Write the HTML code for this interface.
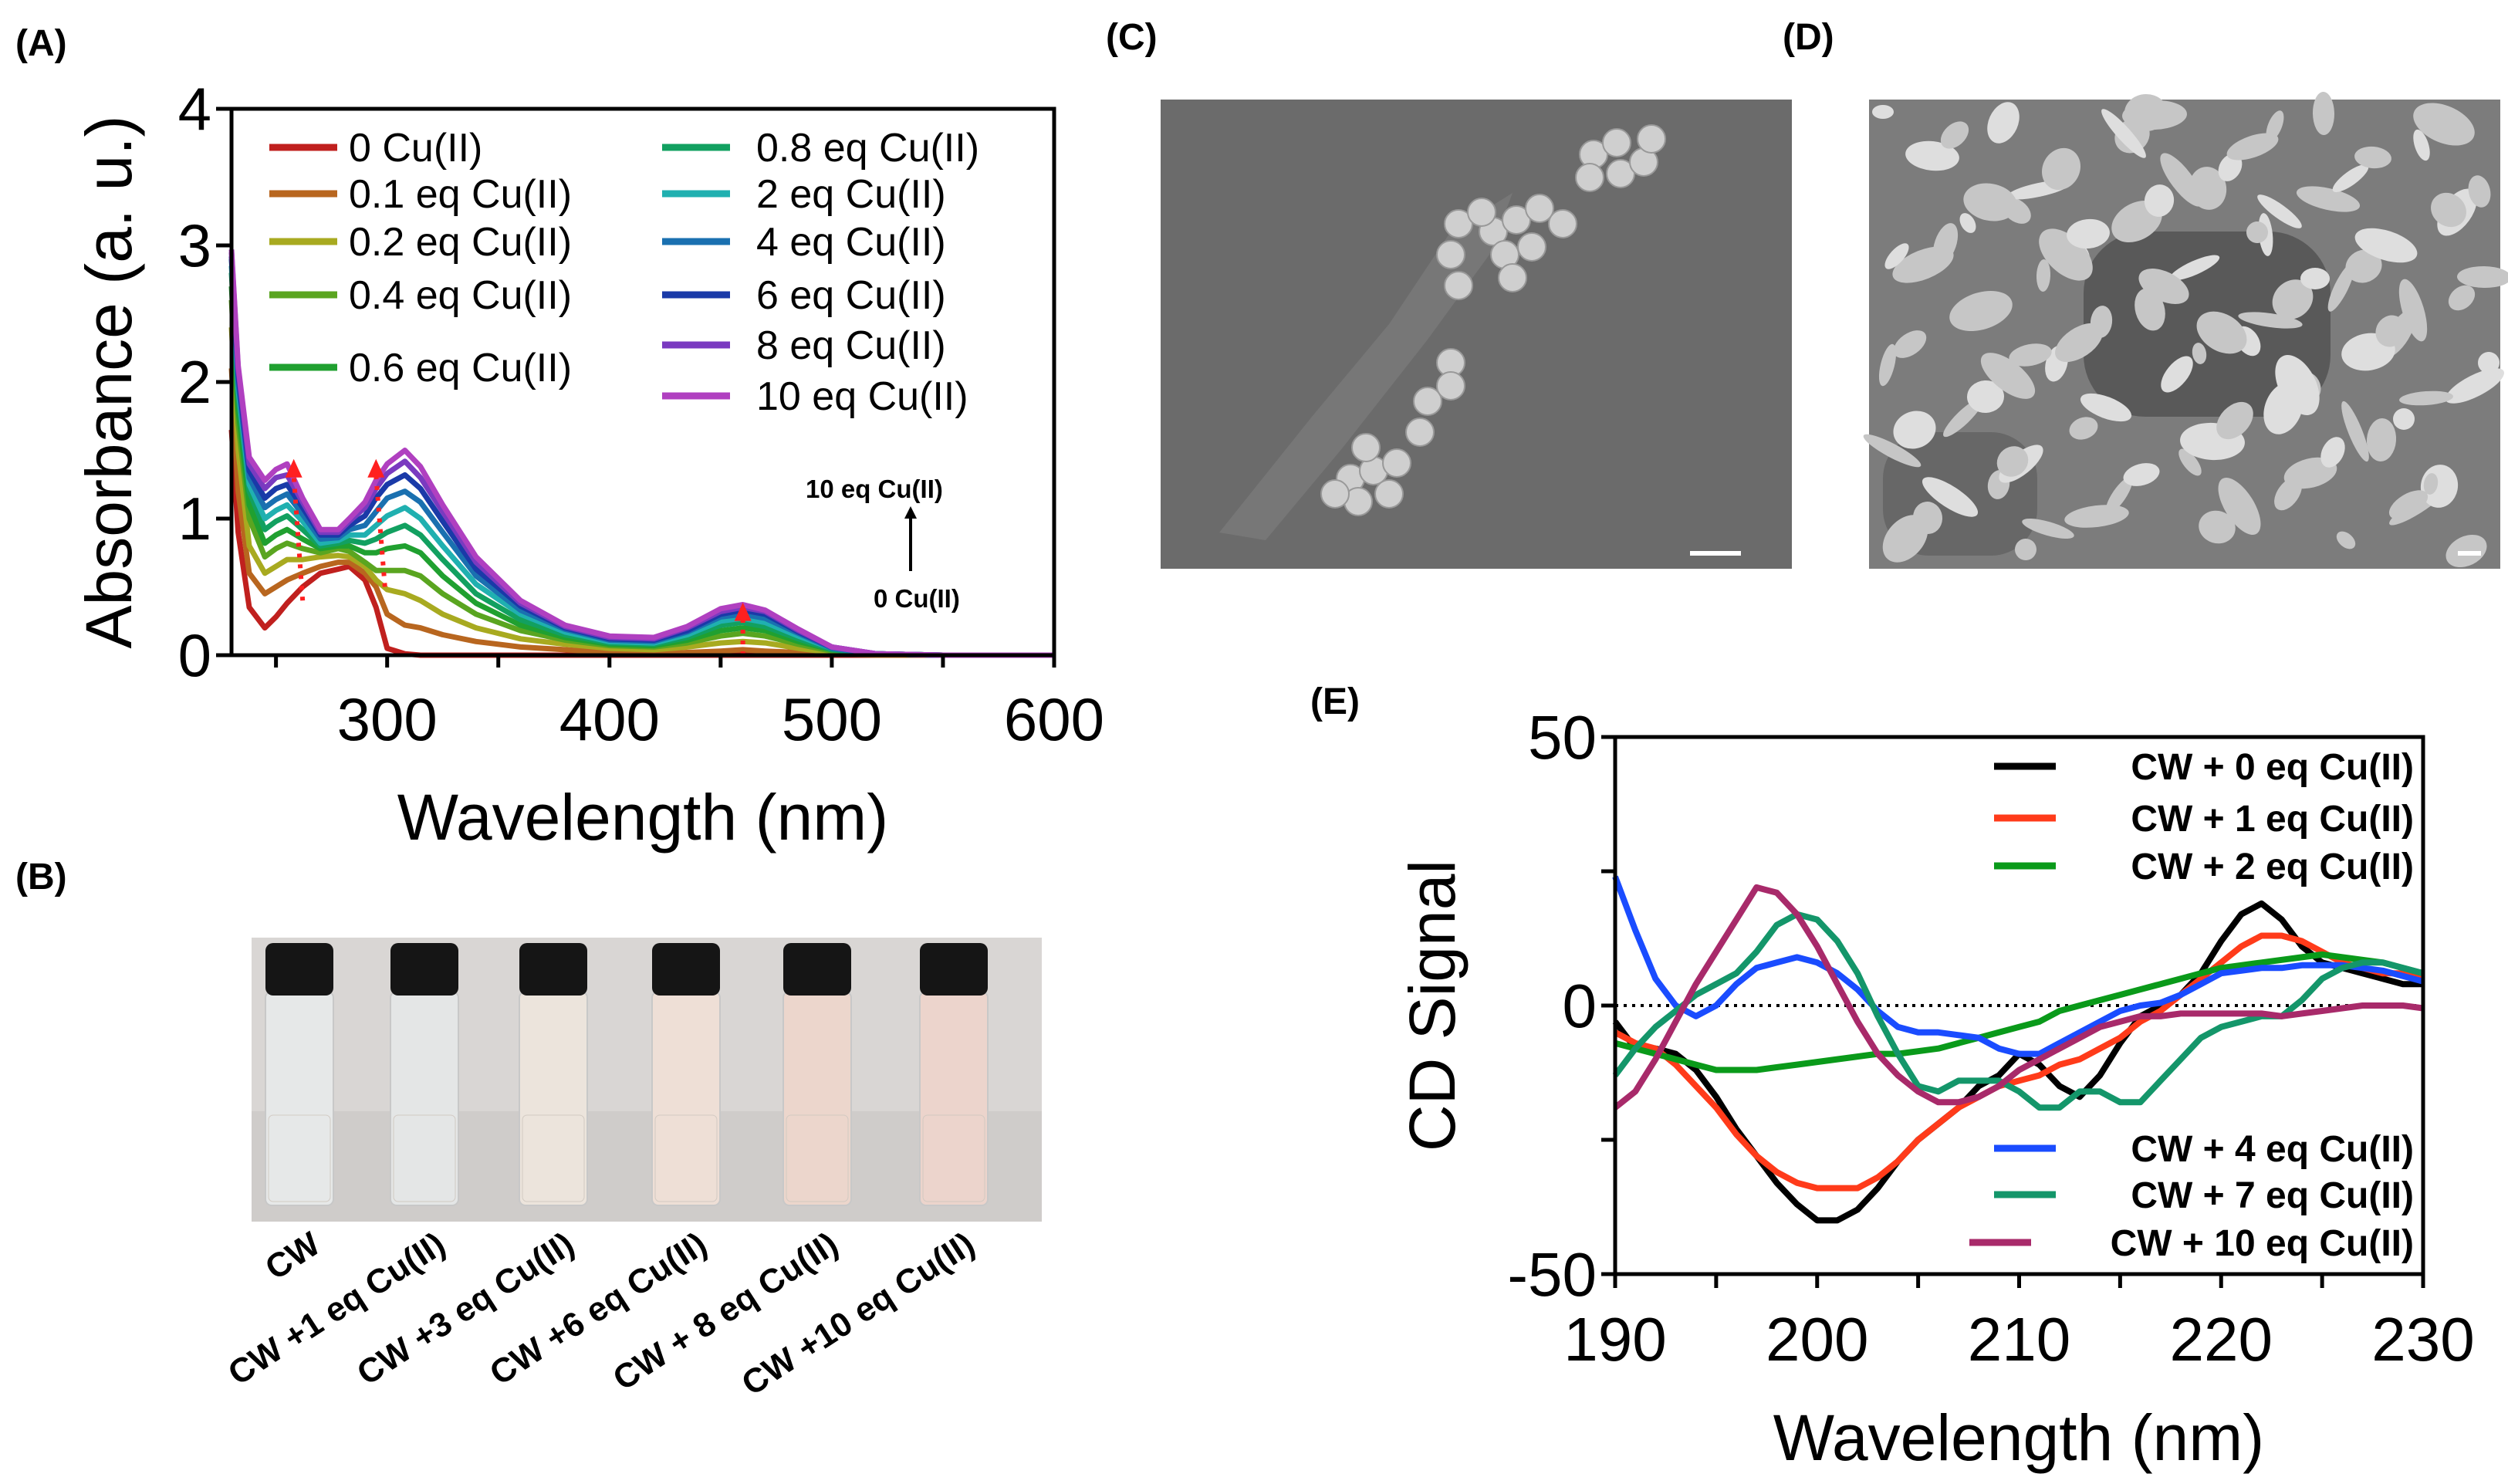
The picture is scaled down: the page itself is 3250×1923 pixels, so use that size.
<!DOCTYPE html>
<html><head><meta charset="utf-8"><style>
html,body{margin:0;padding:0;background:#fff;}
svg{display:block;font-family:"Liberation Sans",sans-serif;}
</style></head><body>
<svg id="fig" width="3250" height="1923" viewBox="0 0 3250 1923" xmlns="http://www.w3.org/2000/svg">
<text x="20" y="72" font-size="48" font-weight="bold">(A)</text>
<text x="20" y="1152" font-size="48" font-weight="bold">(B)</text>
<text x="1433" y="64" font-size="48" font-weight="bold">(C)</text>
<text x="2310" y="64" font-size="48" font-weight="bold">(D)</text>
<text x="1698" y="925" font-size="48" font-weight="bold">(E)</text>
<g id="chartA"></g>
<g id="chartE"></g>
<g id="photoB"></g>
<g id="semC"></g>
<g id="semD"></g>
</svg>
<script>
const NS="http://www.w3.org/2000/svg";
function mk(p,tag,at,txt){const e=document.createElementNS(NS,tag);for(const k in at)e.setAttribute(k,at[k]);if(txt!==undefined)e.textContent=txt;p.appendChild(e);return e;}

// ---------- Panel A data ----------
const aWave=[230,233,238,245,250,255,262,270,278,283,290,295,300,308,315,325,340,360,380,400,420,435,450,460,470,485,500,520,550,600];
const aLabels=["0 Cu(II)","0.1 eq Cu(II)","0.2 eq Cu(II)","0.4 eq Cu(II)","0.6 eq Cu(II)","0.8 eq Cu(II)","2 eq Cu(II)","4 eq Cu(II)","6 eq Cu(II)","8 eq Cu(II)","10 eq Cu(II)"];
const aColors=["#c0201e","#b8661f","#a8aa20","#5aa520","#20a030","#12a060","#20b0b0","#1a70b0","#1a3aa8","#7a3ac0","#b040c0"];
const a0=[1.65,0.9,0.35,0.2,0.28,0.38,0.5,0.6,0.63,0.65,0.55,0.35,0.05,0.01,0,0,0,0,0,0,0,0,0,0,0,0,0,0,0,0];
const a01=[2.1,1.2,0.6,0.45,0.5,0.55,0.6,0.65,0.68,0.68,0.6,0.5,0.3,0.22,0.2,0.15,0.1,0.06,0.04,0.02,0.01,0.02,0.03,0.04,0.03,0.02,0.01,0,0,0];
const a02=[2.4,1.5,0.8,0.6,0.65,0.7,0.7,0.72,0.73,0.72,0.65,0.55,0.48,0.45,0.4,0.3,0.2,0.12,0.08,0.05,0.04,0.06,0.09,0.1,0.09,0.05,0.02,0.01,0,0];
const a04=[2.6,1.7,1.0,0.72,0.78,0.82,0.78,0.75,0.78,0.76,0.68,0.62,0.62,0.62,0.58,0.45,0.3,0.18,0.11,0.07,0.06,0.09,0.14,0.16,0.14,0.08,0.03,0.01,0,0];
const a06=[2.7,1.8,1.1,0.82,0.88,0.92,0.85,0.78,0.8,0.8,0.75,0.75,0.78,0.8,0.75,0.58,0.38,0.22,0.13,0.08,0.07,0.11,0.18,0.2,0.18,0.1,0.04,0.01,0,0];
const a08=[2.8,1.9,1.2,0.92,0.98,1.02,0.92,0.8,0.82,0.84,0.82,0.85,0.9,0.95,0.88,0.7,0.45,0.26,0.15,0.09,0.08,0.13,0.22,0.24,0.21,0.12,0.04,0.01,0,0];
const a2=[2.85,1.95,1.25,1.0,1.06,1.1,0.98,0.82,0.84,0.88,0.88,0.95,1.02,1.08,1.0,0.8,0.52,0.3,0.17,0.1,0.09,0.15,0.25,0.27,0.24,0.14,0.05,0.01,0,0];
const a4=[2.9,2.0,1.3,1.08,1.14,1.18,1.03,0.85,0.86,0.92,0.95,1.05,1.15,1.2,1.12,0.9,0.58,0.33,0.19,0.11,0.1,0.17,0.28,0.3,0.27,0.16,0.05,0.01,0,0];
const a6=[2.92,2.05,1.35,1.15,1.22,1.25,1.08,0.88,0.88,0.95,1.02,1.15,1.25,1.32,1.22,0.98,0.63,0.36,0.2,0.12,0.11,0.18,0.3,0.33,0.3,0.17,0.06,0.01,0,0];
const a8=[2.95,2.1,1.4,1.22,1.3,1.32,1.12,0.9,0.9,0.98,1.08,1.22,1.33,1.42,1.3,1.05,0.68,0.38,0.21,0.13,0.12,0.2,0.32,0.35,0.32,0.18,0.06,0.01,0,0];
const a10=[2.97,2.12,1.45,1.28,1.36,1.4,1.15,0.92,0.92,1.0,1.12,1.28,1.4,1.5,1.38,1.1,0.72,0.4,0.22,0.14,0.13,0.21,0.34,0.37,0.33,0.19,0.06,0.01,0,0];
const aSeries=[a0,a01,a02,a04,a06,a08,a2,a4,a6,a8,a10];
const aXTicks=[300,400,500,600];
const aYTicks=[0,1,2,3,4];

// ---------- Panel E data ----------
const eWave=[190,191,192,193,194,195,196,197,198,199,200,201,202,203,204,205,206,207,208,209,210,211,212,213,214,215,216,217,218,219,220,221,222,223,224,225,226,227,228,229,230];
const e0=[-3,-8,-8,-9,-12,-17,-23,-28,-33,-37,-40,-40,-38,-34,-29,-25,-22,-19,-15,-13,-9,-11,-15,-17,-13,-7,-2,0,2,6,12,17,19,16,11,8,7,6,5,4,4];
const e1=[-5,-7,-8,-11,-15,-19,-24,-28,-31,-33,-34,-34,-34,-32,-29,-25,-22,-19,-17,-15,-14,-13,-11,-10,-8,-6,-3,-1,2,5,8,11,13,13,12,10,8,7,6,6,5];
const e2=[-7,-8,-9,-10,-11,-12,-12,-12,-11.5,-11,-10.5,-10,-9.5,-9,-9,-8.5,-8,-7,-6,-5,-4,-3,-1,0,1,2,3,4,5,6,7,7.5,8,8.5,9,9.5,9,8.5,8,7,6];
const e4=[24,14,5,0,-2,0,4,7,8,9,8,6,3,-1,-4,-5,-5,-5.5,-6,-8,-9,-9,-7,-5,-3,-1,0,0.5,2,4,6,6.5,7,7,7.5,7.5,7.5,7,6.5,5.5,4.5];
const e7=[-13,-8,-4,-1,2,4,6,10,15,17,16,12,6,-2,-9,-15,-16,-14,-14,-14,-16,-19,-19,-16,-16,-18,-18,-14,-10,-6,-4,-3,-2,-2,1,5,7,8,8,7,6];
const e10=[-19,-16,-10,-3,4,10,16,22,21,17,11,4,-3,-9,-13,-16,-18,-18,-17,-15,-12,-10,-8,-6,-4,-3,-2,-2,-1.5,-1.5,-1.5,-1.5,-1.5,-2,-1.5,-1,-0.5,0,0,0,-0.5];
const eSeries=[e0,e1,e2,e4,e7,e10];
const eLabels=["CW + 0 eq Cu(II)","CW + 1 eq Cu(II)","CW + 2 eq Cu(II)","CW + 4 eq Cu(II)","CW + 7 eq Cu(II)","CW + 10 eq Cu(II)"];
const eColors=["#000000","#ff3b1a","#0a9a1a","#1a4cff","#14966a","#a82a6a"];
const eXTicks=[190,200,210,220,230];
const eYTicks=[-50,0,50];

// ---------- Panel A drawing ----------
(function(){
 const g=document.getElementById('chartA');
 const L=300,R=1366,T=141,B=849;
 const xs=v=>L+(v-230)/(600-230)*(R-L);
 const ys=v=>B-(v/4)*(B-T);
 aSeries.forEach((s,i)=>{
  const d=s.map((v,j)=>(j?'L':'M')+xs(aWave[j]).toFixed(1)+' '+ys(v).toFixed(1)).join(' ');
  const p=mk(g,'path',{d:d,fill:'none',stroke:aColors[i],'stroke-width':7,'stroke-linejoin':'round'});
  
  
 });
 [[258,0.4,1.38],[295,0.5,1.38],[460,0,0.33]].forEach(a=>{
  const l=mk(g,'line',{x1:xs(a[0]+(a[0]<300?4:0)),y1:ys(a[1]),x2:xs(a[0]),y2:ys(a[2])+12,stroke:'#ff2020','stroke-width':6,'stroke-dasharray':'5 9'});
  
  
  const t=mk(g,'path',{d:`M${xs(a[0])-11} ${ys(a[2])+14} L${xs(a[0])+11} ${ys(a[2])+14} L${xs(a[0])} ${ys(a[2])-10} Z`,fill:'#ff2020'});
  
  
 });
 const ax=mk(g,'path',{d:`M${L} ${T} L${L} ${B} L${R} ${B} L${R} ${T} Z`,fill:'none',stroke:'#000','stroke-width':5});
 
 
 [250,300,350,400,450,500,550,600].forEach(v=>{mk(g,'line',{x1:xs(v),y1:B,x2:xs(v),y2:B+16,stroke:'#000','stroke-width':5});});
 aXTicks.forEach(v=>{
  const t=mk(g,'text',{x:xs(v),y:B+110,'font-size':78,'text-anchor':'middle'},String(v));
  
  
 });
 aYTicks.forEach(v=>{
  mk(g,'line',{x1:L-20,y1:ys(v),x2:L,y2:ys(v),stroke:'#000','stroke-width':5});
  const t=mk(g,'text',{x:L-26,y:ys(v)+27,'font-size':78,'text-anchor':'end'},String(v));
  
  
 });
 const xt=mk(g,'text',{x:833,y:1088,'font-size':84,'text-anchor':'middle'},'Wavelength (nm)');
 
 
 const yt=mk(g,'text',{x:0,y:0,'font-size':84,'text-anchor':'middle',transform:'translate(170,495) rotate(-90)'},'Absorbance (a. u.)');
 
 
 const legY=[191,251,313,382,476,191,251,313,382,447,513];
 aLabels.forEach((lab,i)=>{
  const lx=i<5?349:858, tx=i<5?452:980;
  mk(g,'line',{x1:lx,y1:legY[i],x2:lx+88,y2:legY[i],stroke:aColors[i],'stroke-width':9});
  const t=mk(g,'text',{x:tx,y:legY[i]+18,'font-size':52},lab);
  
  
 });
 const n1=mk(g,'text',{x:1044,y:645,'font-size':33,'font-weight':'bold'},'10 eq Cu(II)');
 
 
 mk(g,'line',{x1:1180,y1:740,x2:1180,y2:668,stroke:'#000','stroke-width':4});
 mk(g,'path',{d:'M1172 672 L1188 672 L1180 656 Z',fill:'#000'});
 const n2=mk(g,'text',{x:1132,y:787,'font-size':33,'font-weight':'bold'},'0 Cu(II)');
 
 
})();

// ---------- Panel E drawing ----------
(function(){
 const g=document.getElementById('chartE');
 const L=2093,R=3140,T=955,B=1651;
 const xs=v=>L+(v-190)/40*(R-L);
 const ys=v=>T+(50-v)/100*(B-T);
 mk(g,'line',{x1:L,y1:ys(0),x2:R,y2:ys(0),stroke:'#000','stroke-width':4,'stroke-dasharray':'4 7'});
 eSeries.forEach((s,i)=>{
  const d=s.map((v,j)=>(j?'L':'M')+xs(eWave[j]).toFixed(1)+' '+ys(v).toFixed(1)).join(' ');
  const p=mk(g,'path',{d:d,fill:'none',stroke:eColors[i],'stroke-width':8,'stroke-linejoin':'round'});
  
  
 });
 mk(g,'path',{d:`M${L} ${T} L${L} ${B} L${R} ${B} L${R} ${T} Z`,fill:'none',stroke:'#000','stroke-width':5});
 for(let v=190;v<=230;v+=5)mk(g,'line',{x1:xs(v),y1:B,x2:xs(v),y2:B+18,stroke:'#000','stroke-width':5});
 [-50,-25,0,25,50].forEach(v=>mk(g,'line',{x1:L-18,y1:ys(v),x2:L,y2:ys(v),stroke:'#000','stroke-width':5}));
 eXTicks.forEach(v=>{
  const t=mk(g,'text',{x:xs(v),y:B+112,'font-size':80,'text-anchor':'middle'},String(v));
  
  
 });
 eYTicks.forEach(v=>{
  const t=mk(g,'text',{x:L-24,y:ys(v)+28,'font-size':80,'text-anchor':'end'},String(v));
  
  
 });
 const xt=mk(g,'text',{x:2616,y:1892,'font-size':84,'text-anchor':'middle'},'Wavelength (nm)');
 
 
 const yt=mk(g,'text',{x:0,y:0,'font-size':84,'text-anchor':'middle',transform:'translate(1885,1303) rotate(-90)'},'CD Signal');
 
 
 const legY=[993,1060,1122,1488,1548,1610];
 eLabels.forEach((lab,i)=>{
  const lx=i==5?2552:2584;
  mk(g,'line',{x1:lx,y1:legY[i],x2:lx+80,y2:legY[i],stroke:eColors[i],'stroke-width':9});
  const t=mk(g,'text',{x:3128,y:legY[i]+17,'font-size':48,'font-weight':'bold','text-anchor':'end'},lab);
  
  
 });
})();

// ---------- Panel B photo ----------
(function(){
 const g=document.getElementById('photoB');
 mk(g,'rect',{x:326,y:1215,width:1024,height:368,fill:'#d9d6d4'});
 mk(g,'rect',{x:326,y:1440,width:1024,height:143,fill:'#cfccca'});
 const cx=[388,550,717,889,1059,1236];
 const tint=['#e6e8e8','#e4e6e6','#ece4dc','#eedfd6','#ecd6cc','#ecd4cc'];
 const labs=['CW','CW +1 eq Cu(II)','CW +3 eq Cu(II)','CW +6 eq Cu(II)','CW + 8 eq Cu(II)','CW +10 eq Cu(II)'];
 cx.forEach((c,i)=>{
  const b=mk(g,'rect',{x:c-44,y:1285,width:88,height:277,rx:8,fill:tint[i],stroke:'#c8c8c8','stroke-width':2});
  
  
  mk(g,'rect',{x:c-40,y:1445,width:80,height:112,rx:6,fill:tint[i],opacity:0.9,stroke:'#d0c8c0'});
  mk(g,'rect',{x:c-44,y:1222,width:88,height:68,rx:10,fill:'#151515'});
  const t=mk(g,'text',{x:0,y:0,'font-size':44,'font-weight':'bold','text-anchor':'end',transform:`translate(${c+30},${1620}) rotate(-33)`},labs[i]);
  
  
 });
})();

// ---------- SEM images ----------
(function(){
 const c=document.getElementById('semC');
 mk(c,'rect',{x:1504,y:129,width:818,height:608,fill:'#6b6b6b'});
 mk(c,'path',{d:'M1580 690 L1700 540 L1800 420 L1880 300 L1960 250 L1930 330 L1850 440 L1740 580 L1640 700 Z',fill:'#777'});
 const sp=[[1935,300],[1965,285],[1995,270],[2025,290],[1950,330],[1985,320],[2065,200],[2095,185],[2060,230],[2100,225],[2130,210],[2140,180],[1890,290],[1920,275],[1880,330],[1960,360],[1890,370],[1880,470],[1750,620],[1780,610],[1810,600],[1760,650],[1730,640],[1800,640],[1770,580],[1840,560],[1850,520],[1880,500]];
 sp.forEach(p=>mk(c,'circle',{cx:p[0],cy:p[1],r:18,fill:'#cfcfcf',stroke:'#999','stroke-width':2}));
 mk(c,'rect',{x:2190,y:714,width:66,height:6,fill:'#fff'});
 const d=document.getElementById('semD');
 mk(d,'rect',{x:2422,y:129,width:818,height:608,fill:'#7c7c7c'});
 mk(d,'rect',{x:2700,y:300,width:320,height:240,rx:80,fill:'#4a4a4a',opacity:0.7});
 mk(d,'rect',{x:2440,y:560,width:200,height:160,rx:60,fill:'#5a5a5a',opacity:0.6});
 for(let i=0;i<110;i++){
  const x=2440+((i*173)%790), y=145+((i*97+ (i%7)*31)%580);
  mk(d,'ellipse',{cx:x,cy:y,rx:14+(i%5)*7,ry:9+(i%4)*5,fill:(i%3?'#c6c6c6':'#dedede'),transform:`rotate(${(i*37)%180} ${x} ${y})`});
 }
 mk(d,'rect',{x:3185,y:714,width:30,height:6,fill:'#fff'});
})();
</script>
</body></html>
